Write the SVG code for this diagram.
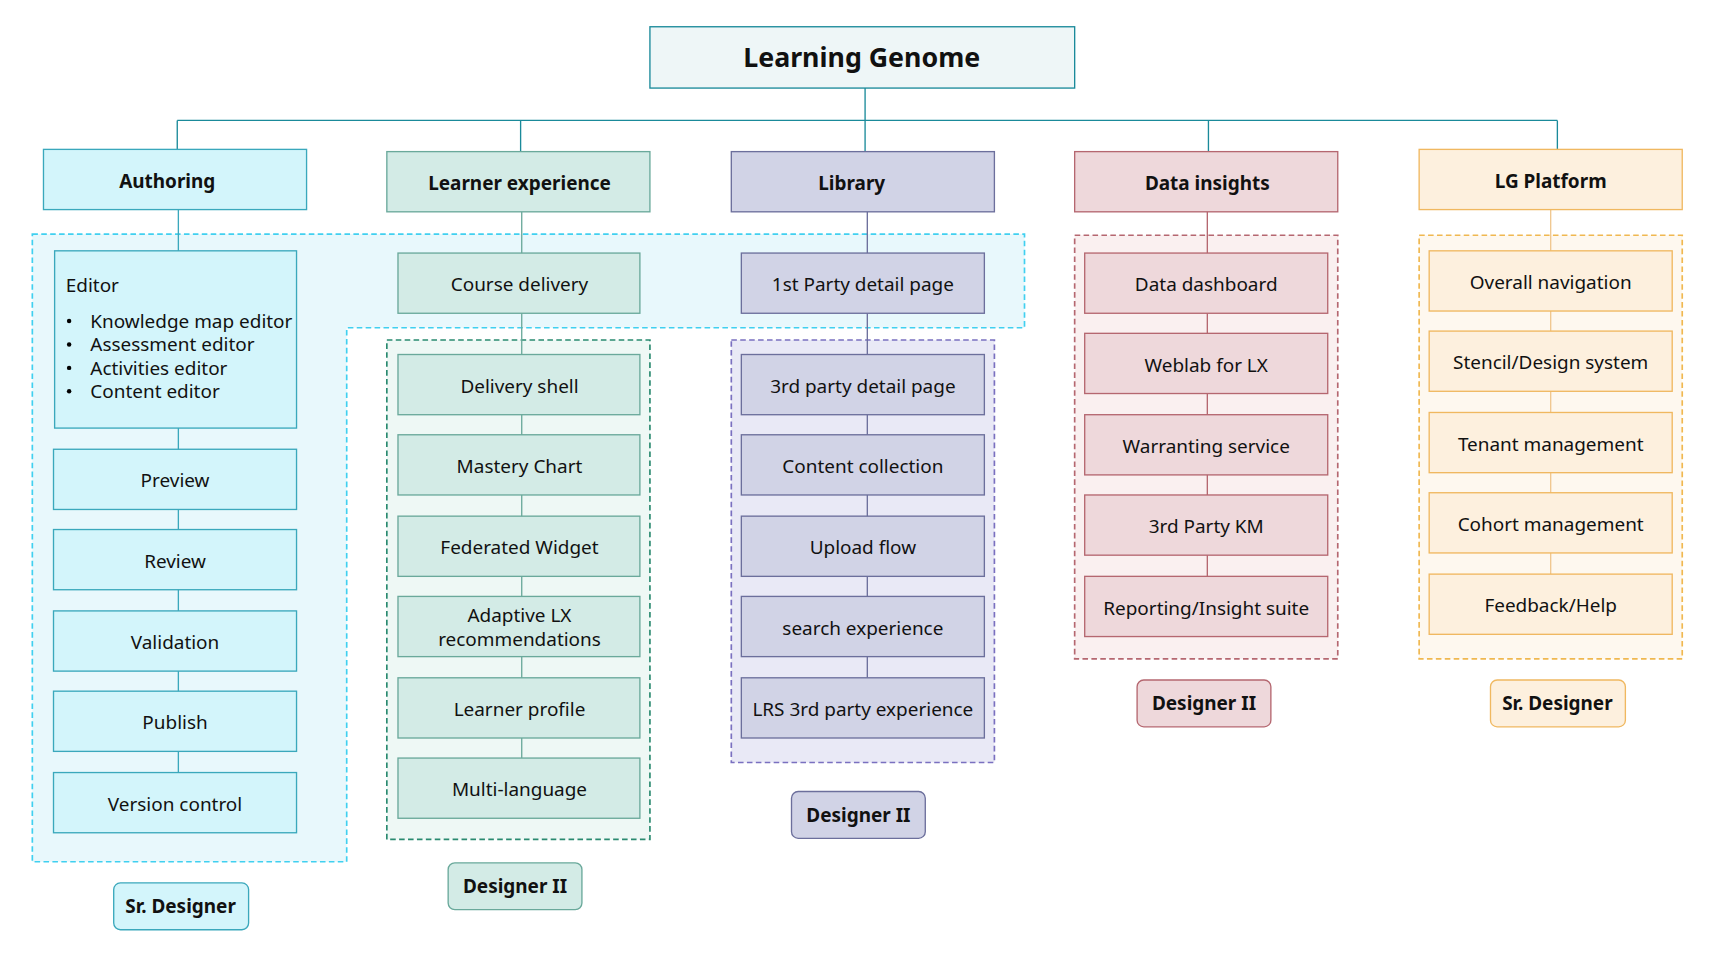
<svg xmlns="http://www.w3.org/2000/svg" width="1728" height="971" viewBox="0 0 1728 971">
<style>
text{font-family:"Noto Sans","Open Sans",sans-serif;font-size:17px;fill:#111;text-anchor:middle;dominant-baseline:central}
.b{font-weight:bold}
.a{fill:#d3f5fb;stroke:#3aa8bc;stroke-width:1.2}
.l{fill:#d3ebe6;stroke:#6aa99b;stroke-width:1.2}
.y{fill:#d1d3e6;stroke:#6c6f9c;stroke-width:1.2}
.d{fill:#eed8db;stroke:#b56770;stroke-width:1.2}
.p{fill:#fdf0de;stroke:#f0b860;stroke-width:1.2}
.dash{stroke-width:1.5;stroke-dasharray:5 3}
.c{fill:none;stroke-width:1.2}
</style>
<rect width="1728" height="971" fill="#fff"/>
<g transform="scale(1.1148)">
<g id="regions">
<path class="dash" d="M29 210H919V294H311V773H29Z" fill="#e8f8fc" stroke="#40d0f0"/>
<rect class="dash" x="347" y="305" width="236" height="448" fill="#eef8f5" stroke="#2a8a70"/>
<rect class="dash" x="656" y="305" width="236" height="379" fill="#e9e9f6" stroke="#7a70c0"/>
<rect class="dash" x="964" y="211" width="236" height="380" fill="#faf0f0" stroke="#b56770"/>
<rect class="dash" x="1273" y="211" width="236" height="380" fill="#fef8ef" stroke="#f0b850"/>
</g>
<g id="connectors">
<path class="c" stroke="#1a8a9a" d="M776 79V108M159 108H1397M159 108V134M467 108V136M776 108V136M1084 108V136M1397 108V134"/>
<path class="c" stroke="#3aa8bc" d="M160 188V693"/>
<path class="c" stroke="#6aa99b" d="M468 190V680"/>
<path class="c" stroke="#6c6f9c" d="M778 190V608"/>
<path class="c" stroke="#b56770" d="M1083 190V517"/>
<path class="c" stroke="#f0c890" d="M1391 188V515"/>
</g>
<g id="title"><rect x="583" y="24" width="381" height="55" fill="#eef6f7" stroke="#1a8a9a" stroke-width="1.2"/><text x="773" y="51" class="b" style="font-size:24px">Learning Genome</text></g>
<g id="authoring"><rect class="a" x="39" y="134" width="236" height="54"/><text class="b" x="150" y="162">Authoring</text></g>
<g id="learner"><rect class="l" x="347" y="136" width="236" height="54"/><text class="b" x="466" y="164">Learner experience</text></g>
<g id="library"><rect class="y" x="656" y="136" width="236" height="54"/><text class="b" x="764" y="164">Library</text></g>
<g id="data"><rect class="d" x="964" y="136" width="236" height="54"/><text class="b" x="1083" y="164">Data insights</text></g>
<g id="platform"><rect class="p" x="1273" y="134" width="236" height="54"/><text class="b" x="1391" y="162">LG Platform</text></g>
<g id="editor"><rect class="a" x="49" y="225" width="217" height="159"/>
<text x="59" y="256" style="text-anchor:start">Editor</text>
<g style="text-anchor:start"><circle cx="62" cy="288" r="2"/><circle cx="62" cy="309" r="2"/><circle cx="62" cy="330" r="2"/><circle cx="62" cy="351" r="2"/>
<text x="81" y="288" style="text-anchor:start">Knowledge map editor</text><text x="81" y="309" style="text-anchor:start">Assessment editor</text><text x="81" y="330" style="text-anchor:start">Activities editor</text><text x="81" y="351" style="text-anchor:start">Content editor</text></g></g>
<g id="preview"><rect class="a" x="48" y="403" width="218" height="54"/><text x="157" y="431">Preview</text></g>
<g id="review"><rect class="a" x="48" y="475" width="218" height="54"/><text x="157" y="503">Review</text></g>
<g id="validation"><rect class="a" x="48" y="548" width="218" height="54"/><text x="157" y="576">Validation</text></g>
<g id="publish"><rect class="a" x="48" y="620" width="218" height="54"/><text x="157" y="648">Publish</text></g>
<g id="version"><rect class="a" x="48" y="693" width="218" height="54"/><text x="157" y="721">Version control</text></g>
<g id="course"><rect class="l" x="357" y="227" width="217" height="54"/><text x="466" y="255">Course delivery</text></g>
<g id="shell"><rect class="l" x="357" y="318" width="217" height="54"/><text x="466" y="346">Delivery shell</text></g>
<g id="mastery"><rect class="l" x="357" y="390" width="217" height="54"/><text x="466" y="418">Mastery Chart</text></g>
<g id="federated"><rect class="l" x="357" y="463" width="217" height="54"/><text x="466" y="491">Federated Widget</text></g>
<g id="adaptive"><rect class="l" x="357" y="535" width="217" height="54"/><text x="466" y="552">Adaptive LX</text><text x="466" y="573">recommendations</text></g>
<g id="profile"><rect class="l" x="357" y="608" width="217" height="54"/><text x="466" y="636">Learner profile</text></g>
<g id="multi"><rect class="l" x="357" y="680" width="217" height="54"/><text x="466" y="708">Multi-language</text></g>
<g id="first"><rect class="y" x="665" y="227" width="218" height="54"/><text x="774" y="255">1st Party detail page</text></g>
<g id="third"><rect class="y" x="665" y="318" width="218" height="54"/><text x="774" y="346">3rd party detail page</text></g>
<g id="collection"><rect class="y" x="665" y="390" width="218" height="54"/><text x="774" y="418">Content collection</text></g>
<g id="upload"><rect class="y" x="665" y="463" width="218" height="54"/><text x="774" y="491">Upload flow</text></g>
<g id="search"><rect class="y" x="665" y="535" width="218" height="54"/><text x="774" y="563">search experience</text></g>
<g id="lrs"><rect class="y" x="665" y="608" width="218" height="54"/><text x="774" y="636">LRS 3rd party experience</text></g>
<g id="dashboard"><rect class="d" x="973" y="227" width="218" height="54"/><text x="1082" y="255">Data dashboard</text></g>
<g id="weblab"><rect class="d" x="973" y="299" width="218" height="54"/><text x="1082" y="327">Weblab for LX</text></g>
<g id="warranting"><rect class="d" x="973" y="372" width="218" height="54"/><text x="1082" y="400">Warranting service</text></g>
<g id="km"><rect class="d" x="973" y="444" width="218" height="54"/><text x="1082" y="472">3rd Party KM</text></g>
<g id="reporting"><rect class="d" x="973" y="517" width="218" height="54"/><text x="1082" y="545">Reporting/Insight suite</text></g>
<g id="nav"><rect class="p" x="1282" y="225" width="218" height="54"/><text x="1391" y="253">Overall navigation</text></g>
<g id="stencil"><rect class="p" x="1282" y="297" width="218" height="54"/><text x="1391" y="325">Stencil/Design system</text></g>
<g id="tenant"><rect class="p" x="1282" y="370" width="218" height="54"/><text x="1391" y="398">Tenant management</text></g>
<g id="cohort"><rect class="p" x="1282" y="442" width="218" height="54"/><text x="1391" y="470">Cohort management</text></g>
<g id="feedback"><rect class="p" x="1282" y="515" width="218" height="54"/><text x="1391" y="543">Feedback/Help</text></g>
<g id="badge1"><rect class="a" x="102" y="792" width="121" height="42" rx="6"/><text class="b" x="162" y="813">Sr. Designer</text></g>
<g id="badge2"><rect class="l" x="402" y="774" width="120" height="42" rx="6"/><text class="b" x="462" y="795">Designer II</text></g>
<g id="badge3"><rect class="y" x="710" y="710" width="120" height="42" rx="6"/><text class="b" x="770" y="731">Designer II</text></g>
<g id="badge4"><rect class="d" x="1020" y="610" width="120" height="42" rx="6"/><text class="b" x="1080" y="631">Designer II</text></g>
<g id="badge5"><rect class="p" x="1337" y="610" width="121" height="42" rx="6"/><text class="b" x="1397" y="631">Sr. Designer</text></g>
</g>
</svg>
